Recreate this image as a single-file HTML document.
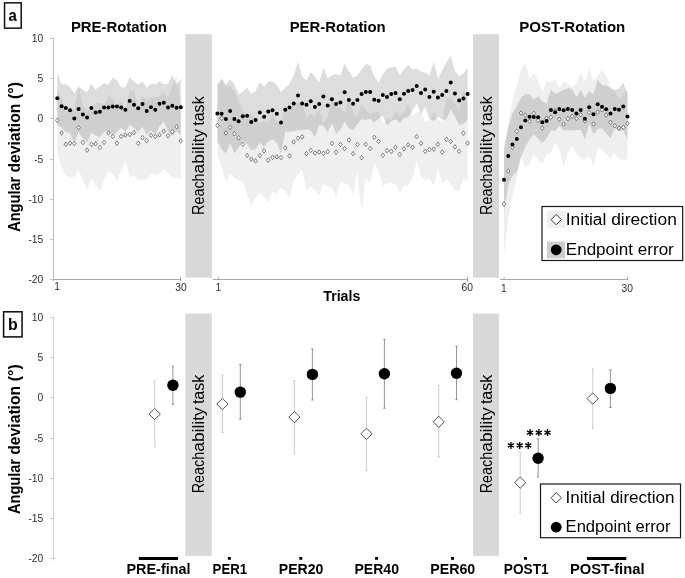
<!DOCTYPE html>
<html><head><meta charset="utf-8"><title>Figure</title>
<style>html,body{margin:0;padding:0;background:#fff}svg{display:block;will-change:transform}text{font-family:"Liberation Sans",sans-serif}</style></head>
<body>
<svg width="685" height="578" viewBox="0 0 685 578">
<rect width="685" height="578" fill="#fff"/>
<g stroke="none">
<path d="M57.3,88.7 L61.6,97.7 L65.8,113.0 L70.1,108.9 L74.3,109.7 L78.6,85.0 L82.9,105.6 L87.1,111.0 L91.4,109.9 L95.6,103.0 L99.9,102.8 L104.1,105.2 L108.4,95.0 L112.7,98.5 L116.9,105.9 L121.2,101.6 L125.4,108.9 L129.7,91.7 L134.0,89.7 L138.2,107.3 L142.5,95.8 L146.7,101.2 L151.0,97.5 L155.3,97.9 L159.5,96.2 L163.8,93.0 L168.0,98.3 L172.3,85.4 L176.6,75.8 L180.8,102.4 L180.8,179.5 L176.6,177.4 L172.3,178.1 L168.0,173.4 L163.8,169.3 L159.5,173.4 L155.3,175.0 L151.0,172.9 L146.7,179.9 L142.5,179.5 L138.2,179.5 L134.0,175.4 L129.7,177.4 L125.4,161.1 L121.2,171.3 L116.9,180.5 L112.7,174.4 L108.4,170.9 L104.1,179.5 L99.9,192.2 L95.6,184.6 L91.4,178.5 L87.1,189.3 L82.9,179.5 L78.6,170.3 L74.3,177.4 L70.1,177.4 L65.8,175.4 L61.6,168.2 L57.3,151.9Z" fill="#efefef"/>
<path d="M217.4,85.3 L221.6,78.4 L225.9,86.9 L230.1,85.3 L234.4,91.5 L238.6,100.7 L242.8,109.9 L247.1,118.0 L251.3,113.4 L255.6,120.1 L259.8,123.1 L264.1,121.1 L268.3,123.1 L272.5,113.9 L276.8,121.1 L281.0,125.2 L285.3,105.1 L289.5,113.4 L293.7,103.4 L298.0,102.2 L302.2,103.4 L306.5,117.5 L310.7,114.1 L314.9,116.3 L319.2,108.5 L323.4,122.8 L327.7,116.9 L331.9,99.1 L336.1,107.5 L340.4,107.3 L344.6,113.4 L348.9,95.3 L353.1,113.0 L357.4,117.5 L361.6,103.6 L365.8,110.0 L370.1,114.5 L374.3,111.4 L378.6,111.4 L382.8,124.5 L387.0,117.9 L391.3,120.2 L395.5,110.4 L399.8,116.1 L404.0,112.2 L408.2,104.0 L412.5,116.1 L416.7,112.2 L421.0,111.4 L425.2,122.2 L429.4,120.6 L433.7,112.2 L437.9,119.2 L442.2,121.8 L446.4,99.1 L450.7,98.1 L454.9,103.0 L459.1,111.6 L463.4,87.9 L467.6,104.9 L467.6,181.5 L463.4,178.5 L459.1,191.1 L454.9,190.7 L450.7,184.6 L446.4,179.5 L442.2,182.6 L437.9,169.3 L433.7,186.0 L429.4,178.5 L425.2,180.5 L421.0,175.4 L416.7,161.1 L412.5,178.5 L408.2,185.6 L404.0,185.6 L399.8,192.8 L395.5,184.6 L391.3,182.6 L387.0,183.2 L382.8,186.0 L378.6,171.3 L374.3,163.1 L370.1,182.6 L365.8,178.5 L361.6,211.8 L357.4,171.3 L353.1,194.2 L348.9,184.6 L344.6,183.6 L340.4,181.5 L336.1,196.9 L331.9,187.7 L327.7,186.6 L323.4,183.6 L319.2,195.8 L314.9,189.7 L310.7,186.6 L306.5,189.7 L302.2,170.3 L298.0,174.4 L293.7,180.5 L289.5,198.3 L285.3,190.7 L281.0,187.7 L276.8,193.8 L272.5,191.7 L268.3,202.4 L264.1,196.9 L259.8,192.8 L255.6,197.9 L251.3,205.6 L247.1,194.8 L242.8,181.5 L238.6,180.5 L234.4,178.5 L230.1,172.9 L225.9,181.9 L221.6,167.6 L217.4,153.9Z" fill="#efefef"/>
<path d="M504.0,153.5 L508.3,123.2 L512.5,99.4 L516.8,85.3 L521.0,70.0 L525.3,62.5 L529.6,78.6 L533.8,72.2 L538.1,80.8 L542.3,92.6 L546.6,81.3 L550.9,81.7 L555.1,78.7 L559.4,88.3 L563.6,81.0 L567.9,84.8 L572.2,87.2 L576.4,83.3 L580.7,71.7 L584.9,81.9 L589.2,68.8 L593.5,81.6 L597.7,76.0 L602.0,69.7 L606.2,75.5 L610.5,86.2 L614.8,90.7 L619.0,98.9 L623.3,93.3 L627.5,88.8 L627.5,158.0 L623.3,161.1 L619.0,159.0 L614.8,152.9 L610.5,158.2 L606.2,154.5 L602.0,149.9 L597.7,147.8 L593.5,166.2 L589.2,156.0 L584.9,159.9 L580.7,157.7 L576.4,153.9 L572.2,145.8 L567.9,152.8 L563.6,167.2 L559.4,150.3 L555.1,142.7 L550.9,152.9 L546.6,155.3 L542.3,163.4 L538.1,160.0 L533.8,154.2 L529.6,163.8 L525.3,167.7 L521.0,156.0 L516.8,177.3 L512.5,195.4 L508.3,218.6 L504.0,254.9Z" fill="#efefef"/>
<path d="M57.3,71.8 L61.6,84.7 L65.8,83.8 L70.1,87.6 L74.3,93.2 L78.6,86.4 L82.9,89.8 L87.1,92.2 L91.4,83.7 L95.6,89.6 L99.9,86.4 L104.1,83.3 L108.4,84.8 L112.7,77.4 L116.9,80.2 L121.2,87.6 L125.4,87.6 L129.7,77.4 L134.0,81.5 L138.2,84.5 L142.5,81.2 L146.7,87.8 L151.0,84.0 L155.3,84.5 L159.5,81.3 L163.8,84.2 L168.0,84.0 L172.3,75.1 L176.6,84.5 L180.8,78.9 L180.8,135.5 L176.6,131.1 L172.3,136.5 L168.0,131.2 L163.8,121.2 L159.5,126.2 L155.3,134.8 L151.0,130.4 L146.7,134.4 L142.5,126.7 L138.2,132.0 L134.0,128.0 L129.7,124.8 L125.4,131.7 L121.2,127.6 L116.9,132.6 L112.7,135.4 L108.4,130.4 L104.1,131.9 L99.9,137.0 L95.6,135.4 L91.4,132.4 L87.1,142.7 L82.9,138.9 L78.6,131.7 L74.3,143.7 L70.1,133.0 L65.8,132.3 L61.6,127.7 L57.3,124.7Z" fill="#000" fill-opacity="0.135"/>
<path d="M217.4,85.2 L221.6,78.2 L225.9,84.7 L230.1,79.0 L234.4,84.7 L238.6,94.6 L242.8,91.9 L247.1,87.4 L251.3,93.9 L255.6,90.9 L259.8,82.3 L264.1,86.8 L268.3,81.7 L272.5,81.1 L276.8,84.7 L281.0,91.9 L285.3,87.4 L289.5,83.7 L293.7,75.5 L298.0,61.2 L302.2,76.6 L306.5,80.7 L310.7,72.1 L314.9,76.6 L319.2,82.7 L323.4,67.4 L327.7,78.6 L331.9,74.9 L336.1,74.1 L340.4,75.5 L344.6,63.3 L348.9,71.5 L353.1,77.6 L357.4,75.5 L361.6,69.4 L365.8,63.9 L370.1,65.3 L374.3,76.6 L378.6,82.7 L382.8,74.5 L387.0,68.8 L391.3,67.4 L395.5,66.8 L399.8,75.5 L404.0,69.4 L408.2,64.7 L412.5,69.4 L416.7,68.8 L421.0,71.5 L425.2,72.5 L429.4,75.5 L433.7,61.9 L437.9,78.6 L442.2,70.4 L446.4,62.3 L450.7,56.1 L454.9,70.4 L459.1,76.2 L463.4,73.5 L467.6,68.0 L467.6,119.9 L463.4,123.8 L459.1,124.8 L454.9,116.6 L450.7,108.9 L446.4,119.5 L442.2,119.5 L437.9,116.6 L433.7,121.5 L429.4,118.5 L425.2,106.8 L421.0,114.4 L416.7,103.1 L412.5,110.7 L408.2,117.0 L404.0,118.1 L399.8,123.0 L395.5,119.1 L391.3,120.9 L387.0,125.2 L382.8,115.4 L378.6,118.7 L374.3,122.8 L370.1,118.5 L365.8,119.9 L361.6,118.9 L357.4,124.2 L353.1,129.9 L348.9,128.3 L344.6,121.3 L340.4,129.5 L336.1,133.8 L331.9,123.6 L327.7,132.2 L323.4,125.8 L319.2,125.2 L314.9,137.5 L310.7,130.5 L306.5,128.9 L302.2,130.5 L298.0,129.9 L293.7,131.5 L289.5,131.5 L285.3,132.0 L281.0,153.2 L276.8,142.8 L272.5,139.5 L268.3,141.4 L264.1,146.9 L259.8,142.8 L255.6,149.3 L251.3,150.3 L247.1,144.2 L242.8,140.5 L238.6,148.1 L234.4,153.4 L230.1,143.2 L225.9,153.4 L221.6,149.3 L217.4,141.6Z" fill="#000" fill-opacity="0.135"/>
<path d="M504.0,147.1 L508.3,127.6 L512.5,113.4 L516.8,105.9 L521.0,97.7 L525.3,94.1 L529.6,94.5 L533.8,99.8 L538.1,96.0 L542.3,101.6 L546.6,103.4 L550.9,89.6 L555.1,93.8 L559.4,91.9 L563.6,90.0 L567.9,87.9 L572.2,89.3 L576.4,97.2 L580.7,90.1 L584.9,97.9 L589.2,91.2 L593.5,94.0 L597.7,79.6 L602.0,85.0 L606.2,85.3 L610.5,88.6 L614.8,90.3 L619.0,88.4 L623.3,82.9 L627.5,93.6 L627.5,139.2 L623.3,130.3 L619.0,131.0 L614.8,127.9 L610.5,138.2 L606.2,133.3 L602.0,128.6 L597.7,128.8 L593.5,134.6 L589.2,123.2 L584.9,139.5 L580.7,130.1 L576.4,130.0 L572.2,130.5 L567.9,129.9 L563.6,130.6 L559.4,125.9 L555.1,130.8 L550.9,130.6 L546.6,138.4 L542.3,143.0 L538.1,138.6 L533.8,134.2 L529.6,139.1 L525.3,146.9 L521.0,156.9 L516.8,171.9 L512.5,175.8 L508.3,184.6 L504.0,212.5Z" fill="#000" fill-opacity="0.135"/>
</g>
<g stroke-width="1" fill="none">
<path stroke="#bcbcbc" d="M53.5,38V281.6"/><path stroke="#c6c6c6" d="M50,38.5H53M50,78.5H53M50,118.5H53M50,159.5H53M50,199.5H53M50,239.5H53M50,279.5H53"/><path stroke="#a8a8a8" d="M54,279.5H181M180.5,276.8V281.4"/><path stroke="#a8a8a8" d="M213,279.5H468M218.3,276.8V279.5M467.5,276.8V282"/><path stroke="#a8a8a8" d="M500,279.5H628M504,277V279.5M627.5,276.8V279.5"/></g>
<g stroke="#cfcfcf" stroke-width="1" fill="none">
<path d="M53.5,317.5V560.7"/><path d="M50,317.5H54"/><path d="M50,357.5H54"/><path d="M50,397.5H54"/><path d="M50,438.5H54"/><path d="M50,478.5H54"/><path d="M50,518.5H54"/><path d="M50,558.5H54"/><path d="M53.5,558.5H56.2"/></g>
<g fill="#d9d9d9"><rect x="185.3" y="34.2" width="26.6" height="243.5"/><rect x="473.0" y="34.2" width="26.0" height="243.5"/><rect x="185.3" y="313.5" width="26.5" height="242.4"/><rect x="473.0" y="313.5" width="26.0" height="242.4"/></g>
<text transform="translate(204.3,215.0) rotate(-90)" font-size="16" font-weight="normal" text-anchor="start" textLength="41.6" lengthAdjust="spacingAndGlyphs" fill="#000">Reach</text>
<text transform="translate(204.3,173.4) rotate(-90)" font-size="16" font-weight="normal" text-anchor="start" textLength="44.4" lengthAdjust="spacingAndGlyphs" fill="#000">ability</text>
<text transform="translate(204.3,125.8) rotate(-90)" font-size="16" font-weight="normal" text-anchor="start" textLength="29.5" lengthAdjust="spacingAndGlyphs" fill="#000">task</text>
<text transform="translate(492.0,215.0) rotate(-90)" font-size="16" font-weight="normal" text-anchor="start" textLength="41.6" lengthAdjust="spacingAndGlyphs" fill="#000">Reach</text>
<text transform="translate(492.0,173.4) rotate(-90)" font-size="16" font-weight="normal" text-anchor="start" textLength="44.4" lengthAdjust="spacingAndGlyphs" fill="#000">ability</text>
<text transform="translate(492.0,125.8) rotate(-90)" font-size="16" font-weight="normal" text-anchor="start" textLength="29.5" lengthAdjust="spacingAndGlyphs" fill="#000">task</text>
<text transform="translate(204.3,493.3) rotate(-90)" font-size="16" font-weight="normal" text-anchor="start" textLength="41.6" lengthAdjust="spacingAndGlyphs" fill="#000">Reach</text>
<text transform="translate(204.3,451.7) rotate(-90)" font-size="16" font-weight="normal" text-anchor="start" textLength="44.4" lengthAdjust="spacingAndGlyphs" fill="#000">ability</text>
<text transform="translate(204.3,404.1) rotate(-90)" font-size="16" font-weight="normal" text-anchor="start" textLength="29.5" lengthAdjust="spacingAndGlyphs" fill="#000">task</text>
<text transform="translate(492.0,493.3) rotate(-90)" font-size="16" font-weight="normal" text-anchor="start" textLength="41.6" lengthAdjust="spacingAndGlyphs" fill="#000">Reach</text>
<text transform="translate(492.0,451.7) rotate(-90)" font-size="16" font-weight="normal" text-anchor="start" textLength="44.4" lengthAdjust="spacingAndGlyphs" fill="#000">ability</text>
<text transform="translate(492.0,404.1) rotate(-90)" font-size="16" font-weight="normal" text-anchor="start" textLength="29.5" lengthAdjust="spacingAndGlyphs" fill="#000">task</text>
<g fill="#fff" stroke="#666" stroke-width="0.85">
<path d="M57.3,118.0l1.75,2.25l-1.75,2.25l-1.75,-2.25z"/><path d="M61.6,130.7l1.75,2.25l-1.75,2.25l-1.75,-2.25z"/><path d="M65.8,142.0l1.75,2.25l-1.75,2.25l-1.75,-2.25z"/><path d="M70.1,140.9l1.75,2.25l-1.75,2.25l-1.75,-2.25z"/><path d="M74.3,141.3l1.75,2.25l-1.75,2.25l-1.75,-2.25z"/><path d="M78.6,125.4l1.75,2.25l-1.75,2.25l-1.75,-2.25z"/><path d="M82.9,140.3l1.75,2.25l-1.75,2.25l-1.75,-2.25z"/><path d="M87.1,147.9l1.75,2.25l-1.75,2.25l-1.75,-2.25z"/><path d="M91.4,142.0l1.75,2.25l-1.75,2.25l-1.75,-2.25z"/><path d="M95.6,141.5l1.75,2.25l-1.75,2.25l-1.75,-2.25z"/><path d="M99.9,145.2l1.75,2.25l-1.75,2.25l-1.75,-2.25z"/><path d="M104.1,140.1l1.75,2.25l-1.75,2.25l-1.75,-2.25z"/><path d="M108.4,130.7l1.75,2.25l-1.75,2.25l-1.75,-2.25z"/><path d="M112.7,134.2l1.75,2.25l-1.75,2.25l-1.75,-2.25z"/><path d="M116.9,140.9l1.75,2.25l-1.75,2.25l-1.75,-2.25z"/><path d="M121.2,134.2l1.75,2.25l-1.75,2.25l-1.75,-2.25z"/><path d="M125.4,132.8l1.75,2.25l-1.75,2.25l-1.75,-2.25z"/><path d="M129.7,132.3l1.75,2.25l-1.75,2.25l-1.75,-2.25z"/><path d="M134.0,130.3l1.75,2.25l-1.75,2.25l-1.75,-2.25z"/><path d="M138.2,141.1l1.75,2.25l-1.75,2.25l-1.75,-2.25z"/><path d="M142.5,135.4l1.75,2.25l-1.75,2.25l-1.75,-2.25z"/><path d="M146.7,138.3l1.75,2.25l-1.75,2.25l-1.75,-2.25z"/><path d="M151.0,133.0l1.75,2.25l-1.75,2.25l-1.75,-2.25z"/><path d="M155.3,134.2l1.75,2.25l-1.75,2.25l-1.75,-2.25z"/><path d="M159.5,132.6l1.75,2.25l-1.75,2.25l-1.75,-2.25z"/><path d="M163.8,128.9l1.75,2.25l-1.75,2.25l-1.75,-2.25z"/><path d="M168.0,133.6l1.75,2.25l-1.75,2.25l-1.75,-2.25z"/><path d="M172.3,129.5l1.75,2.25l-1.75,2.25l-1.75,-2.25z"/><path d="M176.6,124.4l1.75,2.25l-1.75,2.25l-1.75,-2.25z"/><path d="M180.8,138.7l1.75,2.25l-1.75,2.25l-1.75,-2.25z"/><path d="M217.4,123.2l1.75,2.25l-1.75,2.25l-1.75,-2.25z"/><path d="M221.6,116.0l1.75,2.25l-1.75,2.25l-1.75,-2.25z"/><path d="M225.9,130.7l1.75,2.25l-1.75,2.25l-1.75,-2.25z"/><path d="M230.1,125.2l1.75,2.25l-1.75,2.25l-1.75,-2.25z"/><path d="M234.4,131.5l1.75,2.25l-1.75,2.25l-1.75,-2.25z"/><path d="M238.6,135.6l1.75,2.25l-1.75,2.25l-1.75,-2.25z"/><path d="M242.8,142.0l1.75,2.25l-1.75,2.25l-1.75,-2.25z"/><path d="M247.1,153.2l1.75,2.25l-1.75,2.25l-1.75,-2.25z"/><path d="M251.3,156.9l1.75,2.25l-1.75,2.25l-1.75,-2.25z"/><path d="M255.6,158.7l1.75,2.25l-1.75,2.25l-1.75,-2.25z"/><path d="M259.8,153.4l1.75,2.25l-1.75,2.25l-1.75,-2.25z"/><path d="M264.1,148.7l1.75,2.25l-1.75,2.25l-1.75,-2.25z"/><path d="M268.3,157.9l1.75,2.25l-1.75,2.25l-1.75,-2.25z"/><path d="M272.5,155.0l1.75,2.25l-1.75,2.25l-1.75,-2.25z"/><path d="M276.8,154.6l1.75,2.25l-1.75,2.25l-1.75,-2.25z"/><path d="M281.0,155.3l1.75,2.25l-1.75,2.25l-1.75,-2.25z"/><path d="M285.3,145.6l1.75,2.25l-1.75,2.25l-1.75,-2.25z"/><path d="M289.5,153.6l1.75,2.25l-1.75,2.25l-1.75,-2.25z"/><path d="M293.7,139.7l1.75,2.25l-1.75,2.25l-1.75,-2.25z"/><path d="M298.0,136.0l1.75,2.25l-1.75,2.25l-1.75,-2.25z"/><path d="M302.2,134.6l1.75,2.25l-1.75,2.25l-1.75,-2.25z"/><path d="M306.5,151.4l1.75,2.25l-1.75,2.25l-1.75,-2.25z"/><path d="M310.7,148.1l1.75,2.25l-1.75,2.25l-1.75,-2.25z"/><path d="M314.9,150.8l1.75,2.25l-1.75,2.25l-1.75,-2.25z"/><path d="M319.2,149.9l1.75,2.25l-1.75,2.25l-1.75,-2.25z"/><path d="M323.4,151.0l1.75,2.25l-1.75,2.25l-1.75,-2.25z"/><path d="M327.7,149.5l1.75,2.25l-1.75,2.25l-1.75,-2.25z"/><path d="M331.9,141.1l1.75,2.25l-1.75,2.25l-1.75,-2.25z"/><path d="M336.1,149.9l1.75,2.25l-1.75,2.25l-1.75,-2.25z"/><path d="M340.4,142.2l1.75,2.25l-1.75,2.25l-1.75,-2.25z"/><path d="M344.6,146.3l1.75,2.25l-1.75,2.25l-1.75,-2.25z"/><path d="M348.9,137.7l1.75,2.25l-1.75,2.25l-1.75,-2.25z"/><path d="M353.1,151.4l1.75,2.25l-1.75,2.25l-1.75,-2.25z"/><path d="M357.4,142.2l1.75,2.25l-1.75,2.25l-1.75,-2.25z"/><path d="M361.6,155.5l1.75,2.25l-1.75,2.25l-1.75,-2.25z"/><path d="M365.8,142.0l1.75,2.25l-1.75,2.25l-1.75,-2.25z"/><path d="M370.1,146.3l1.75,2.25l-1.75,2.25l-1.75,-2.25z"/><path d="M374.3,135.0l1.75,2.25l-1.75,2.25l-1.75,-2.25z"/><path d="M378.6,139.1l1.75,2.25l-1.75,2.25l-1.75,-2.25z"/><path d="M382.8,153.0l1.75,2.25l-1.75,2.25l-1.75,-2.25z"/><path d="M387.0,148.3l1.75,2.25l-1.75,2.25l-1.75,-2.25z"/><path d="M391.3,149.1l1.75,2.25l-1.75,2.25l-1.75,-2.25z"/><path d="M395.5,145.2l1.75,2.25l-1.75,2.25l-1.75,-2.25z"/><path d="M399.8,152.2l1.75,2.25l-1.75,2.25l-1.75,-2.25z"/><path d="M404.0,146.7l1.75,2.25l-1.75,2.25l-1.75,-2.25z"/><path d="M408.2,142.6l1.75,2.25l-1.75,2.25l-1.75,-2.25z"/><path d="M412.5,145.0l1.75,2.25l-1.75,2.25l-1.75,-2.25z"/><path d="M416.7,134.4l1.75,2.25l-1.75,2.25l-1.75,-2.25z"/><path d="M421.0,141.1l1.75,2.25l-1.75,2.25l-1.75,-2.25z"/><path d="M425.2,149.1l1.75,2.25l-1.75,2.25l-1.75,-2.25z"/><path d="M429.4,147.3l1.75,2.25l-1.75,2.25l-1.75,-2.25z"/><path d="M433.7,146.9l1.75,2.25l-1.75,2.25l-1.75,-2.25z"/><path d="M437.9,142.0l1.75,2.25l-1.75,2.25l-1.75,-2.25z"/><path d="M442.2,149.9l1.75,2.25l-1.75,2.25l-1.75,-2.25z"/><path d="M446.4,137.1l1.75,2.25l-1.75,2.25l-1.75,-2.25z"/><path d="M450.7,139.1l1.75,2.25l-1.75,2.25l-1.75,-2.25z"/><path d="M454.9,144.6l1.75,2.25l-1.75,2.25l-1.75,-2.25z"/><path d="M459.1,149.1l1.75,2.25l-1.75,2.25l-1.75,-2.25z"/><path d="M463.4,130.9l1.75,2.25l-1.75,2.25l-1.75,-2.25z"/><path d="M467.6,140.9l1.75,2.25l-1.75,2.25l-1.75,-2.25z"/><path d="M504.0,201.9l1.75,2.25l-1.75,2.25l-1.75,-2.25z"/><path d="M508.3,168.7l1.75,2.25l-1.75,2.25l-1.75,-2.25z"/><path d="M512.5,145.2l1.75,2.25l-1.75,2.25l-1.75,-2.25z"/><path d="M516.8,129.1l1.75,2.25l-1.75,2.25l-1.75,-2.25z"/><path d="M521.0,110.8l1.75,2.25l-1.75,2.25l-1.75,-2.25z"/><path d="M525.3,112.8l1.75,2.25l-1.75,2.25l-1.75,-2.25z"/><path d="M529.6,119.0l1.75,2.25l-1.75,2.25l-1.75,-2.25z"/><path d="M533.8,111.0l1.75,2.25l-1.75,2.25l-1.75,-2.25z"/><path d="M538.1,118.2l1.75,2.25l-1.75,2.25l-1.75,-2.25z"/><path d="M542.3,125.8l1.75,2.25l-1.75,2.25l-1.75,-2.25z"/><path d="M546.6,116.0l1.75,2.25l-1.75,2.25l-1.75,-2.25z"/><path d="M550.9,115.0l1.75,2.25l-1.75,2.25l-1.75,-2.25z"/><path d="M555.1,108.5l1.75,2.25l-1.75,2.25l-1.75,-2.25z"/><path d="M559.4,117.0l1.75,2.25l-1.75,2.25l-1.75,-2.25z"/><path d="M563.6,121.8l1.75,2.25l-1.75,2.25l-1.75,-2.25z"/><path d="M567.9,116.5l1.75,2.25l-1.75,2.25l-1.75,-2.25z"/><path d="M572.2,114.2l1.75,2.25l-1.75,2.25l-1.75,-2.25z"/><path d="M576.4,116.3l1.75,2.25l-1.75,2.25l-1.75,-2.25z"/><path d="M580.7,112.5l1.75,2.25l-1.75,2.25l-1.75,-2.25z"/><path d="M584.9,118.7l1.75,2.25l-1.75,2.25l-1.75,-2.25z"/><path d="M589.2,110.2l1.75,2.25l-1.75,2.25l-1.75,-2.25z"/><path d="M593.5,121.7l1.75,2.25l-1.75,2.25l-1.75,-2.25z"/><path d="M597.7,109.7l1.75,2.25l-1.75,2.25l-1.75,-2.25z"/><path d="M602.0,107.5l1.75,2.25l-1.75,2.25l-1.75,-2.25z"/><path d="M606.2,112.8l1.75,2.25l-1.75,2.25l-1.75,-2.25z"/><path d="M610.5,120.0l1.75,2.25l-1.75,2.25l-1.75,-2.25z"/><path d="M614.8,123.5l1.75,2.25l-1.75,2.25l-1.75,-2.25z"/><path d="M619.0,125.8l1.75,2.25l-1.75,2.25l-1.75,-2.25z"/><path d="M623.3,125.0l1.75,2.25l-1.75,2.25l-1.75,-2.25z"/><path d="M627.5,121.2l1.75,2.25l-1.75,2.25l-1.75,-2.25z"/></g>
<g fill="#000">
<circle cx="57.3" cy="98.2" r="2.0"/><circle cx="61.6" cy="106.2" r="2.0"/><circle cx="65.8" cy="108.0" r="2.0"/><circle cx="70.1" cy="110.3" r="2.0"/><circle cx="74.3" cy="118.5" r="2.0"/><circle cx="78.6" cy="109.0" r="2.0"/><circle cx="82.9" cy="114.4" r="2.0"/><circle cx="87.1" cy="117.4" r="2.0"/><circle cx="91.4" cy="108.0" r="2.0"/><circle cx="95.6" cy="112.5" r="2.0"/><circle cx="99.9" cy="111.7" r="2.0"/><circle cx="104.1" cy="107.6" r="2.0"/><circle cx="108.4" cy="107.6" r="2.0"/><circle cx="112.7" cy="106.4" r="2.0"/><circle cx="116.9" cy="106.4" r="2.0"/><circle cx="121.2" cy="107.6" r="2.0"/><circle cx="125.4" cy="109.7" r="2.0"/><circle cx="129.7" cy="101.1" r="2.0"/><circle cx="134.0" cy="104.8" r="2.0"/><circle cx="138.2" cy="108.2" r="2.0"/><circle cx="142.5" cy="103.9" r="2.0"/><circle cx="146.7" cy="111.1" r="2.0"/><circle cx="151.0" cy="107.2" r="2.0"/><circle cx="155.3" cy="109.7" r="2.0"/><circle cx="159.5" cy="103.7" r="2.0"/><circle cx="163.8" cy="102.7" r="2.0"/><circle cx="168.0" cy="107.6" r="2.0"/><circle cx="172.3" cy="105.8" r="2.0"/><circle cx="176.6" cy="107.8" r="2.0"/><circle cx="180.8" cy="107.2" r="2.0"/><circle cx="217.4" cy="113.4" r="2.0"/><circle cx="221.6" cy="113.8" r="2.0"/><circle cx="225.9" cy="119.1" r="2.0"/><circle cx="230.1" cy="111.1" r="2.0"/><circle cx="234.4" cy="119.1" r="2.0"/><circle cx="238.6" cy="121.3" r="2.0"/><circle cx="242.8" cy="116.2" r="2.0"/><circle cx="247.1" cy="115.8" r="2.0"/><circle cx="251.3" cy="122.1" r="2.0"/><circle cx="255.6" cy="120.1" r="2.0"/><circle cx="259.8" cy="112.5" r="2.0"/><circle cx="264.1" cy="116.8" r="2.0"/><circle cx="268.3" cy="111.5" r="2.0"/><circle cx="272.5" cy="110.3" r="2.0"/><circle cx="276.8" cy="113.8" r="2.0"/><circle cx="281.0" cy="122.6" r="2.0"/><circle cx="285.3" cy="109.7" r="2.0"/><circle cx="289.5" cy="107.6" r="2.0"/><circle cx="293.7" cy="103.5" r="2.0"/><circle cx="298.0" cy="95.6" r="2.0"/><circle cx="302.2" cy="103.5" r="2.0"/><circle cx="306.5" cy="104.8" r="2.0"/><circle cx="310.7" cy="101.3" r="2.0"/><circle cx="314.9" cy="107.0" r="2.0"/><circle cx="319.2" cy="104.0" r="2.0"/><circle cx="323.4" cy="96.6" r="2.0"/><circle cx="327.7" cy="105.4" r="2.0"/><circle cx="331.9" cy="99.3" r="2.0"/><circle cx="336.1" cy="104.0" r="2.0"/><circle cx="340.4" cy="102.5" r="2.0"/><circle cx="344.6" cy="92.3" r="2.0"/><circle cx="348.9" cy="99.9" r="2.0"/><circle cx="353.1" cy="103.8" r="2.0"/><circle cx="357.4" cy="99.9" r="2.0"/><circle cx="361.6" cy="94.1" r="2.0"/><circle cx="365.8" cy="91.9" r="2.0"/><circle cx="370.1" cy="91.9" r="2.0"/><circle cx="374.3" cy="99.7" r="2.0"/><circle cx="378.6" cy="100.7" r="2.0"/><circle cx="382.8" cy="95.0" r="2.0"/><circle cx="387.0" cy="97.0" r="2.0"/><circle cx="391.3" cy="94.1" r="2.0"/><circle cx="395.5" cy="92.9" r="2.0"/><circle cx="399.8" cy="99.3" r="2.0"/><circle cx="404.0" cy="93.7" r="2.0"/><circle cx="408.2" cy="90.9" r="2.0"/><circle cx="412.5" cy="90.1" r="2.0"/><circle cx="416.7" cy="86.0" r="2.0"/><circle cx="421.0" cy="92.9" r="2.0"/><circle cx="425.2" cy="89.6" r="2.0"/><circle cx="429.4" cy="97.0" r="2.0"/><circle cx="433.7" cy="91.7" r="2.0"/><circle cx="437.9" cy="97.6" r="2.0"/><circle cx="442.2" cy="95.0" r="2.0"/><circle cx="446.4" cy="90.9" r="2.0"/><circle cx="450.7" cy="82.5" r="2.0"/><circle cx="454.9" cy="93.5" r="2.0"/><circle cx="459.1" cy="100.5" r="2.0"/><circle cx="463.4" cy="98.6" r="2.0"/><circle cx="467.6" cy="93.9" r="2.0"/><circle cx="504.0" cy="179.8" r="2.0"/><circle cx="508.3" cy="156.1" r="2.0"/><circle cx="512.5" cy="144.6" r="2.0"/><circle cx="516.8" cy="138.9" r="2.0"/><circle cx="521.0" cy="127.3" r="2.0"/><circle cx="525.3" cy="120.5" r="2.0"/><circle cx="529.6" cy="116.8" r="2.0"/><circle cx="533.8" cy="117.0" r="2.0"/><circle cx="538.1" cy="117.3" r="2.0"/><circle cx="542.3" cy="122.3" r="2.0"/><circle cx="546.6" cy="120.9" r="2.0"/><circle cx="550.9" cy="110.1" r="2.0"/><circle cx="555.1" cy="112.3" r="2.0"/><circle cx="559.4" cy="108.9" r="2.0"/><circle cx="563.6" cy="110.3" r="2.0"/><circle cx="567.9" cy="108.9" r="2.0"/><circle cx="572.2" cy="109.9" r="2.0"/><circle cx="576.4" cy="113.6" r="2.0"/><circle cx="580.7" cy="110.1" r="2.0"/><circle cx="584.9" cy="118.7" r="2.0"/><circle cx="589.2" cy="107.2" r="2.0"/><circle cx="593.5" cy="114.3" r="2.0"/><circle cx="597.7" cy="104.2" r="2.0"/><circle cx="602.0" cy="106.8" r="2.0"/><circle cx="606.2" cy="109.3" r="2.0"/><circle cx="610.5" cy="113.4" r="2.0"/><circle cx="614.8" cy="109.1" r="2.0"/><circle cx="619.0" cy="109.7" r="2.0"/><circle cx="623.3" cy="106.6" r="2.0"/><circle cx="627.5" cy="116.4" r="2.0"/></g>
<text x="70.9" y="31.6" font-size="14.3" font-weight="bold" text-anchor="start" textLength="96" lengthAdjust="spacingAndGlyphs" fill="#000">PRE-Rotation</text>
<text x="289.7" y="31.6" font-size="14.3" font-weight="bold" text-anchor="start" textLength="96" lengthAdjust="spacingAndGlyphs" fill="#000">PER-Rotation</text>
<text x="519.3" y="31.9" font-size="14.3" font-weight="bold" text-anchor="start" textLength="106" lengthAdjust="spacingAndGlyphs" fill="#000">POST-Rotation</text>
<text x="323.3" y="300.9" font-size="14.3" font-weight="bold" text-anchor="start" textLength="37" lengthAdjust="spacingAndGlyphs" fill="#000">Trials</text>
<text transform="translate(19.7,231.8) rotate(-90)" font-size="16.3" font-weight="bold" text-anchor="start" textLength="55" lengthAdjust="spacingAndGlyphs" fill="#000">Angular</text>
<text transform="translate(19.7,172.6) rotate(-90)" font-size="16.3" font-weight="bold" text-anchor="start" textLength="69" lengthAdjust="spacingAndGlyphs" fill="#000">deviation</text>
<text transform="translate(19.7,99.0) rotate(-90)" font-size="16.3" font-weight="bold" text-anchor="start" textLength="17" lengthAdjust="spacingAndGlyphs" fill="#000">(°)</text>
<text transform="translate(19.7,514.0) rotate(-90)" font-size="16.3" font-weight="bold" text-anchor="start" textLength="55" lengthAdjust="spacingAndGlyphs" fill="#000">Angular</text>
<text transform="translate(19.7,454.79999999999995) rotate(-90)" font-size="16.3" font-weight="bold" text-anchor="start" textLength="69" lengthAdjust="spacingAndGlyphs" fill="#000">deviation</text>
<text transform="translate(19.7,381.2) rotate(-90)" font-size="16.3" font-weight="bold" text-anchor="start" textLength="17" lengthAdjust="spacingAndGlyphs" fill="#000">(°)</text>
<text x="43.3" y="42.0" font-size="10.3" font-weight="normal" text-anchor="end" fill="#2e2e2e">10</text>
<text x="43.3" y="82.0" font-size="10.3" font-weight="normal" text-anchor="end" fill="#2e2e2e">5</text>
<text x="43.3" y="122.0" font-size="10.3" font-weight="normal" text-anchor="end" fill="#2e2e2e">0</text>
<text x="43.3" y="163.0" font-size="10.3" font-weight="normal" text-anchor="end" fill="#2e2e2e">-5</text>
<text x="43.3" y="203.0" font-size="10.3" font-weight="normal" text-anchor="end" fill="#2e2e2e">-10</text>
<text x="43.3" y="243.0" font-size="10.3" font-weight="normal" text-anchor="end" fill="#2e2e2e">-15</text>
<text x="43.3" y="283.0" font-size="10.3" font-weight="normal" text-anchor="end" fill="#2e2e2e">-20</text>
<text x="43.3" y="321.0" font-size="10.3" font-weight="normal" text-anchor="end" fill="#2e2e2e">10</text>
<text x="43.3" y="361.0" font-size="10.3" font-weight="normal" text-anchor="end" fill="#2e2e2e">5</text>
<text x="43.3" y="401.0" font-size="10.3" font-weight="normal" text-anchor="end" fill="#2e2e2e">0</text>
<text x="43.3" y="442.0" font-size="10.3" font-weight="normal" text-anchor="end" fill="#2e2e2e">-5</text>
<text x="43.3" y="482.0" font-size="10.3" font-weight="normal" text-anchor="end" fill="#2e2e2e">-10</text>
<text x="43.3" y="522.0" font-size="10.3" font-weight="normal" text-anchor="end" fill="#2e2e2e">-15</text>
<text x="43.3" y="562.0" font-size="10.3" font-weight="normal" text-anchor="end" fill="#2e2e2e">-20</text>
<text x="57.1" y="290.3" font-size="10.3" font-weight="normal" text-anchor="middle" fill="#2e2e2e">1</text>
<text x="181.1" y="290.5" font-size="10.3" font-weight="normal" text-anchor="middle" fill="#2e2e2e">30</text>
<text x="218.3" y="290.8" font-size="10.3" font-weight="normal" text-anchor="middle" fill="#2e2e2e">1</text>
<text x="467.3" y="290.7" font-size="10.3" font-weight="normal" text-anchor="middle" fill="#2e2e2e">60</text>
<text x="503.9" y="291.9" font-size="10.3" font-weight="normal" text-anchor="middle" fill="#2e2e2e">1</text>
<text x="627.2" y="291.9" font-size="10.3" font-weight="normal" text-anchor="middle" fill="#2e2e2e">30</text>
<rect x="4.55" y="2.85" width="16.65" height="25.3" fill="#fff" stroke="#111" stroke-width="1.5"/><text x="12.55" y="21.35" font-size="16.5" font-weight="bold" text-anchor="middle" textLength="8.3" lengthAdjust="spacingAndGlyphs" fill="#000">a</text>
<rect x="3.6" y="311.8" width="18.45" height="25.1" fill="#fff" stroke="#111" stroke-width="1.55"/><text x="12.9" y="330.0" font-size="16.5" font-weight="bold" text-anchor="middle" textLength="9.7" lengthAdjust="spacingAndGlyphs" fill="#000">b</text>
<rect x="542" y="206.5" width="140.70000000000005" height="54.0" fill="#fff" stroke="#1a1a1a" stroke-width="1.2"/>
<rect x="547" y="211" width="18" height="16.8" fill="#efefef"/><rect x="547" y="241.6" width="18" height="16.8" fill="#cecece"/>
<path d="M556.2,214.4l5.2,5.2l-5.2,5.2l-5.2,-5.2z" fill="#fff" stroke="#333" stroke-width="0.95"/><circle cx="556.2" cy="249.8" r="5.4" fill="#000"/>
<text x="565.8" y="224.7" font-size="15.8" font-weight="normal" text-anchor="start" textLength="111" lengthAdjust="spacingAndGlyphs" fill="#000">Initial direction</text>
<text x="565.8" y="254.7" font-size="15.8" font-weight="normal" text-anchor="start" textLength="108" lengthAdjust="spacingAndGlyphs" fill="#000">Endpoint error</text>
<rect x="540.5" y="484.0" width="140.0" height="53.700000000000045" fill="#fff" stroke="#1a1a1a" stroke-width="1.2"/>
<path d="M556.2,492.6l5.2,5.2l-5.2,5.2l-5.2,-5.2z" fill="#fff" stroke="#333" stroke-width="0.95"/><circle cx="556.2" cy="527.2" r="5.4" fill="#000"/>
<text x="565.6" y="502.7" font-size="15.8" font-weight="normal" text-anchor="start" textLength="109" lengthAdjust="spacingAndGlyphs" fill="#000">Initial direction</text>
<text x="565.6" y="532.0" font-size="15.8" font-weight="normal" text-anchor="start" textLength="105" lengthAdjust="spacingAndGlyphs" fill="#000">Endpoint error</text>
<g stroke="#c2c2c2" stroke-width="0.8" fill="none"><path d="M154.7,380.9V446.8M153.5,380.9h2.4M153.5,446.8h2.4"/><path d="M222.4,375.0V432.4M221.20000000000002,375.0h2.4M221.20000000000002,432.4h2.4"/><path d="M294.4,380.6V453.5M293.2,380.6h2.4M293.2,453.5h2.4"/><path d="M366.5,397.6V470.3M365.3,397.6h2.4M365.3,470.3h2.4"/><path d="M438.7,385.3V457.1M437.5,385.3h2.4M437.5,457.1h2.4"/><path d="M520.2,452.2V513.4M519.0,452.2h2.4M519.0,513.4h2.4"/><path d="M592.7,368.8V428.7M591.5,368.8h2.4M591.5,428.7h2.4"/></g>
<g stroke="#7a7a7a" stroke-width="0.8" fill="none"><path d="M172.9,366.2V404.4M171.70000000000002,366.2h2.4M171.70000000000002,404.4h2.4"/><path d="M240.3,364.4V419.1M239.10000000000002,364.4h2.4M239.10000000000002,419.1h2.4"/><path d="M312.4,349.1V400.0M311.2,349.1h2.4M311.2,400.0h2.4"/><path d="M384.4,339.4V408.2M383.2,339.4h2.4M383.2,408.2h2.4"/><path d="M456.5,346.2V399.7M455.3,346.2h2.4M455.3,399.7h2.4"/><path d="M538.1,438.9V477.0M536.9,438.9h2.4M536.9,477.0h2.4"/><path d="M610.4,369.8V407.5M609.1999999999999,369.8h2.4M609.1999999999999,407.5h2.4"/></g>
<g fill="#fff" stroke="#404040" stroke-width="0.9"><path d="M154.7,408.5l5.6,5.6l-5.6,5.6l-5.6,-5.6z"/><path d="M222.4,398.5l5.6,5.6l-5.6,5.6l-5.6,-5.6z"/><path d="M294.4,411.5l5.6,5.6l-5.6,5.6l-5.6,-5.6z"/><path d="M366.5,428.2l5.6,5.6l-5.6,5.6l-5.6,-5.6z"/><path d="M438.7,416.2l5.6,5.6l-5.6,5.6l-5.6,-5.6z"/><path d="M520.2,477.0l5.6,5.6l-5.6,5.6l-5.6,-5.6z"/><path d="M592.7,393.0l5.6,5.6l-5.6,5.6l-5.6,-5.6z"/></g>
<g fill="#000"><circle cx="172.9" cy="385.3" r="5.7"/><circle cx="240.3" cy="392.1" r="5.7"/><circle cx="312.4" cy="374.4" r="5.7"/><circle cx="384.4" cy="373.8" r="5.7"/><circle cx="456.5" cy="373.2" r="5.7"/><circle cx="538.1" cy="458.2" r="5.7"/><circle cx="610.4" cy="388.4" r="5.7"/></g>
<path stroke="#000" stroke-width="1.35" fill="none" d="M510.90,441.90L510.90,448.90M507.87,443.65L513.93,447.15M513.93,443.65L507.87,447.15M519.70,441.90L519.70,448.90M516.67,443.65L522.73,447.15M522.73,443.65L516.67,447.15M528.20,441.90L528.20,448.90M525.17,443.65L531.23,447.15M531.23,443.65L525.17,447.15M530.00,429.10L530.00,436.10M526.97,430.85L533.03,434.35M533.03,430.85L526.97,434.35M538.80,429.10L538.80,436.10M535.77,430.85L541.83,434.35M541.83,430.85L535.77,434.35M547.50,429.10L547.50,436.10M544.47,430.85L550.53,434.35M550.53,430.85L544.47,434.35"/>
<g fill="#000"><rect x="138.8" y="557" width="39.2" height="3"/><rect x="586.9" y="557" width="39.4" height="3"/><rect x="227.9" y="557" width="2.9" height="2.8"/><rect x="299.4" y="557" width="2.9" height="2.8"/><rect x="375.1" y="557" width="2.9" height="2.8"/><rect x="451.1" y="557" width="2.9" height="2.8"/><rect x="524.0" y="557" width="2.9" height="2.8"/></g>
<text x="126.5" y="574.1" font-size="14.3" font-weight="bold" text-anchor="start" textLength="64" lengthAdjust="spacingAndGlyphs" fill="#000">PRE-final</text>
<text x="212.6" y="574.1" font-size="14.3" font-weight="bold" text-anchor="start" textLength="34.5" lengthAdjust="spacingAndGlyphs" fill="#000">PER1</text>
<text x="278.8" y="574.1" font-size="14.3" font-weight="bold" text-anchor="start" textLength="44.6" lengthAdjust="spacingAndGlyphs" fill="#000">PER20</text>
<text x="354.4" y="574.1" font-size="14.3" font-weight="bold" text-anchor="start" textLength="44.6" lengthAdjust="spacingAndGlyphs" fill="#000">PER40</text>
<text x="430.2" y="574.1" font-size="14.3" font-weight="bold" text-anchor="start" textLength="45" lengthAdjust="spacingAndGlyphs" fill="#000">PER60</text>
<text x="503.8" y="574.1" font-size="14.3" font-weight="bold" text-anchor="start" textLength="44.9" lengthAdjust="spacingAndGlyphs" fill="#000">POST1</text>
<text x="569.9" y="574.1" font-size="14.3" font-weight="bold" text-anchor="start" textLength="74.6" lengthAdjust="spacingAndGlyphs" fill="#000">POST-final</text>
</svg>
</body></html>
